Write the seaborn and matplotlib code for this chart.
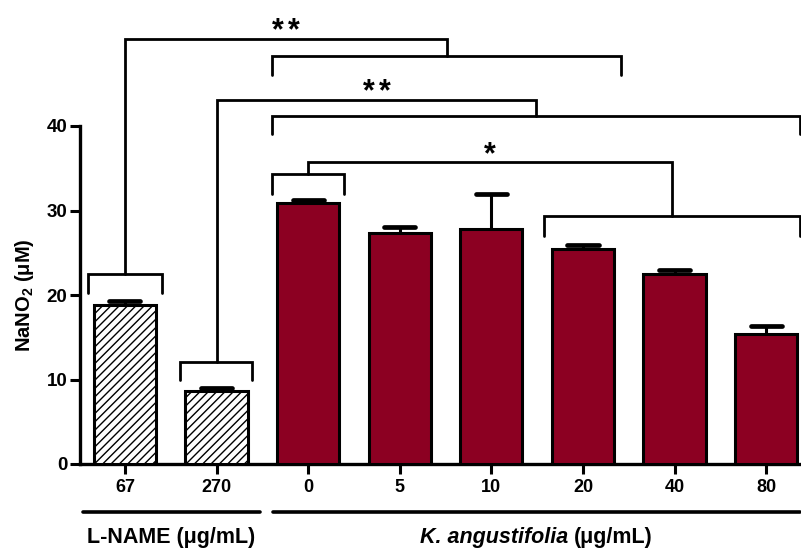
import matplotlib
matplotlib.use("Agg")
import matplotlib.pyplot as plt
import seaborn as sns
import pandas as pd
from matplotlib.lines import Line2D

# ---- data ----
categories = ["67", "270", "0", "5", "10", "20", "40", "80"]
treatment = ["L-NAME", "L-NAME", "K", "K", "K", "K", "K", "K"]
values = [18.8, 8.65, 30.9, 27.3, 27.8, 25.4, 22.45, 15.4]
errors = [0.45, 0.4, 0.3, 0.8, 4.2, 0.5, 0.5, 0.9]
group_labels = ["L-NAME (μg/mL)", "K. angustifolia", "(μg/mL)"]
yticks = [0, 10, 20, 30, 40]

# significance annotations: (bracket x1, x2, top, leg bottom)
brackets = [(-0.40, 0.40, 22.5, 20.2),
            (0.60, 1.39, 12.1, 9.9),
            (1.61, 2.39, 34.3, 32.0),
            (1.61, 5.42, 48.3, 46.0),
            (1.61, 7.37, 41.2, 39.0),
            (4.57, 7.37, 29.3, 27.0)]
# connectors: (x_start, y_start, y_top, x_end, y_end, number of stars)
connectors = [(0.0, 22.5, 50.3, 3.515, 48.3, 2),
              (1.0, 12.1, 43.1, 4.49, 41.2, 2),
              (2.0, 34.3, 35.7, 5.97, 29.3, 1)]

sns.set_theme(style="ticks")
plt.rcParams["font.family"] = ["Liberation Sans", "DejaVu Sans"]
plt.rcParams["mathtext.fontset"] = "custom"
plt.rcParams["mathtext.rm"] = "Liberation Sans"
plt.rcParams["mathtext.bf"] = "Liberation Sans:bold"
plt.rcParams["hatch.linewidth"] = 1.0
plt.rcParams["hatch.color"] = "black"
for k in ["text.color", "axes.labelcolor", "xtick.color", "ytick.color", "axes.edgecolor"]:
    plt.rcParams[k] = "black"

W, H = 801, 550
fig = plt.figure(figsize=(W / 100, H / 100), dpi=100)
ax = fig.add_axes([80 / W, 86 / H, 721 / W, 464 / H])

df = pd.DataFrame({"dose": categories, "no2": values, "grp": treatment})
bar_red = "#8C0022"
palette = {c: ("white" if t == "L-NAME" else bar_red) for c, t in zip(categories, treatment)}
sns.barplot(data=df, x="dose", y="no2", hue="dose", palette=palette, legend=False,
            order=categories, hue_order=categories, width=0.68, saturation=1,
            edgecolor="black", linewidth=2.2, errorbar=None, ax=ax, zorder=3)

patches = sorted(ax.patches, key=lambda p: p.get_x())
for p, t in zip(patches, treatment):
    if t == "L-NAME":
        p.set_hatch("////")

xs = list(range(len(categories)))
tops = [v + e for v, e in zip(values, errors)]
ax.vlines(xs, values, tops, color="black", lw=2.2, zorder=2)
ax.hlines(tops, [x - 0.17 for x in xs], [x + 0.17 for x in xs], color="black", lw=3.4,
          zorder=2, capstyle="round")

ax.set_xlim(-0.49, 7.38)
ax.set_ylim(0, 464 / 8.45)
ax.set_yticks(yticks)
ax.set_yticklabels([str(t) for t in yticks], fontsize=13.5, fontweight="bold")
ax.set_xticks(xs)
ax.set_xticklabels(categories, fontsize=13, fontweight="bold")
for s in ["top", "right"]:
    ax.spines[s].set_visible(False)
ax.spines["left"].set_bounds(0, 40)
ax.spines["left"].set_linewidth(2.4)
ax.spines["bottom"].set_linewidth(2.4)
ax.tick_params(axis="both", length=7, width=2.2, direction="out", color="black")
ax.tick_params(axis="x", pad=4)
ax.tick_params(axis="y", pad=2)
ax.set_xlabel("")
ax.set_ylabel("")

fig.text(24 / W, 1 - 295 / H, r"NaNO$_\mathbf{2}$ ($\mathbf{\mu}$M)", rotation=90,
         ha="center", va="center", fontsize=14.5, fontweight="bold")

lw_b = 2.0
for x1, x2, top, bot in brackets:
    ax.plot([x1, x1, x2, x2], [bot, top, top, bot], color="black", lw=lw_b,
            clip_on=False, solid_joinstyle="miter", zorder=4)
for xs0, ys0, ytop, xe, ye, nstar in connectors:
    ax.plot([xs0, xs0, xe, xe], [ys0, ytop, ytop, ye], color="black", lw=lw_b,
            clip_on=False, solid_joinstyle="miter", zorder=4)
    xm = (xs0 + xe) / 2
    step = 0.175
    for i in range(nstar):
        xi = xm + (i - (nstar - 1) / 2) * step
        ax.text(xi, ytop - 0.9, "*", ha="center", va="bottom",
                fontsize=22, fontweight="bold")

# group lines and labels below axis
fig.add_artist(Line2D([83 / W, 260 / W], [1 - 512 / H, 1 - 512 / H], color="black", lw=2.6))
fig.add_artist(Line2D([273 / W, 800 / W], [1 - 512 / H, 1 - 512 / H], color="black", lw=2.6))
fig.text(171 / W, 1 - 538 / H, group_labels[0], ha="center", va="center",
         fontsize=15.5, fontweight="bold")
fig.text(568 / W, 1 - 538 / H, group_labels[1], ha="right", va="center",
         fontsize=15.5, fontweight="bold", style="italic")
fig.text(574 / W, 1 - 538 / H, group_labels[2], ha="left", va="center",
         fontsize=15.5, fontweight="bold")

fig.savefig("out.png", dpi=100)
